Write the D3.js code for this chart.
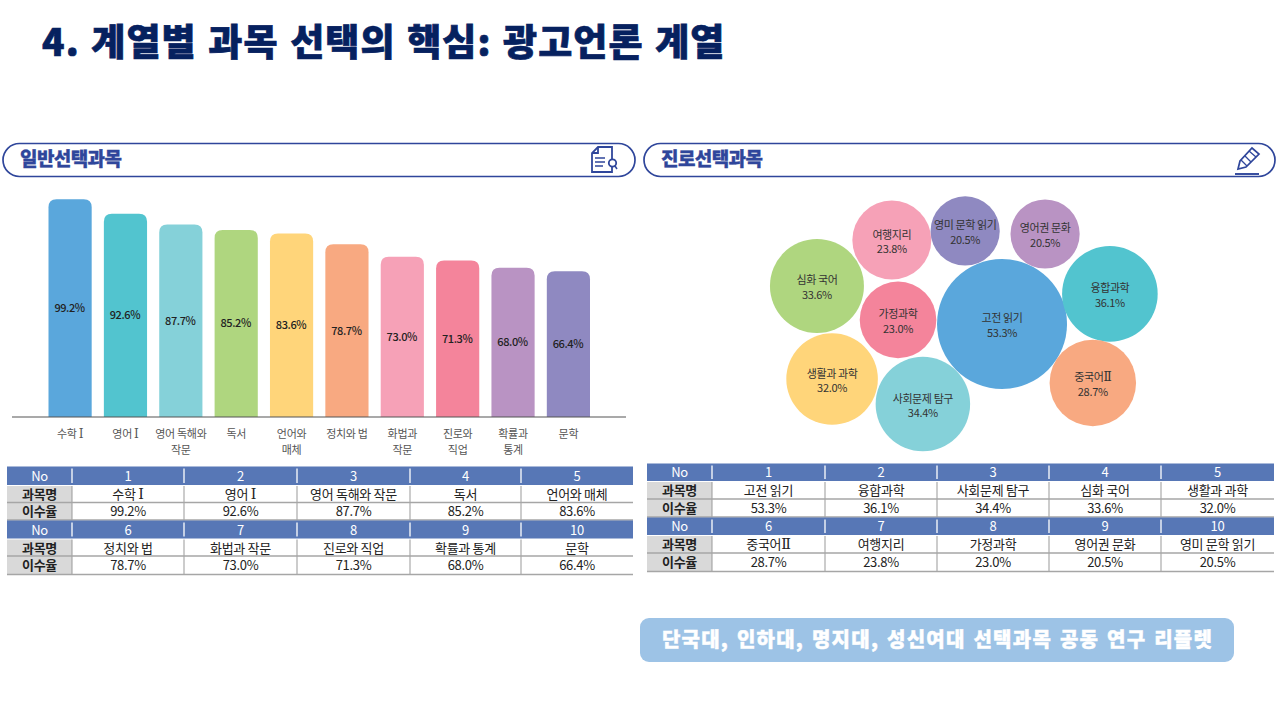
<!DOCTYPE html>
<html>
<head>
<meta charset="utf-8">
<style>
  html, body { margin: 0; padding: 0; background: #fff; }
  text { font-family: "Noto Sans CJK KR", "Noto Sans", sans-serif; }
</style>
<script src="https://cdn.jsdelivr.net/npm/d3@7"></script>
</head>
<body>
<svg id="chart" width="1280" height="720"></svg>
<script>
// general electives, "|" marks the line break on the axis
const generalSubjects = ["수학 Ⅰ", "영어 Ⅰ", "영어 독해와|작문", "독서", "언어와|매체", "정치와 법", "화법과|작문", "진로와|직업", "확률과|통계", "문학"];
const generalRates = [99.2, 92.6, 87.7, 85.2, 83.6, 78.7, 73.0, 71.3, 68.0, 66.4];

// career electives, in table order
const careerSubjects = ["고전 읽기", "융합과학", "사회문제 탐구", "심화 국어", "생활과 과학", "중국어Ⅱ", "여행지리", "가정과학", "영어권 문화", "영미 문학 읽기"];
const careerRates = [53.3, 36.1, 34.4, 33.6, 32.0, 28.7, 23.8, 23.0, 20.5, 20.5];
// where each bubble sits on the map (0-100 both ways)
const bubbleMapX = [59.8, 87.6, 39.4, 12.1, 16.0, 83.2, 31.4, 33.0, 70.9, 50.3];
const bubbleMapY = [49.8, 38.0, 81.2, 34.9, 71.4, 72.9, 16.9, 48.2, 14.5, 13.3];

const palette = ["#5aa7dc", "#52c4cf", "#85d1d9", "#afd67f", "#ffd57a", "#f8a981", "#f6a1b7", "#f4849b", "#b993c3", "#8f89c1"];
const bubbleColors = ["#5aa7dc", "#52c4cf", "#85d1d9", "#afd67f", "#ffd57a", "#f8a981", "#f6a1b7", "#f4849b", "#b993c3", "#8f89c1"];

const navy = "#06215f";
const pillColor = "#2f469b";
const svg = d3.select("#chart");

// roman numerals are serif in the source
function withRoman(str) {
  return str.replace(/[ⅠⅡ]/g, m => `<tspan font-family="DejaVu Serif" font-size="1.1em">${m}</tspan>`);
}

// page title
svg.append("text")
  .attr("x", 42).attr("y", 56)
  .attr("font-size", 37).attr("font-weight", 900)
  .attr("fill", navy).attr("stroke", navy).attr("stroke-width", 0.7)
  .attr("letter-spacing", 1.1)
  .style("word-spacing", "2px")
  .text("4. 계열별 과목 선택의 핵심: 광고언론 계열");

function pill(x, w, label) {
  svg.append("rect")
    .attr("x", x).attr("y", 143.5).attr("width", w).attr("height", 33)
    .attr("rx", 16.5)
    .attr("fill", "#fff").attr("stroke", pillColor).attr("stroke-width", 1.7);
  svg.append("text")
    .attr("x", x + 17).attr("y", 166)
    .attr("font-size", 19).attr("font-weight", 900)
    .attr("fill", pillColor).attr("stroke", pillColor).attr("stroke-width", 0.3)
    .attr("letter-spacing", -0.6)
    .text(label);
}
pill(3, 632, "일반선택과목");
pill(644, 631, "진로선택과목");

// document icon
const docIcon = svg.append("g").attr("fill", "none").attr("stroke", pillColor).attr("stroke-width", 1.8);
docIcon.append("path").attr("d", "M598 147h14v25h-20v-19z");
docIcon.append("path").attr("d", "M598 147v6h-6");
docIcon.append("path").attr("d", "M595 158h10M595 162h10M595 166h8").attr("stroke-width", 1.4);
docIcon.append("circle").attr("cx", 612.5).attr("cy", 163).attr("r", 3.7).attr("fill", "#fff");
docIcon.append("path").attr("d", "M615 166l2 3").attr("stroke-width", 1.5);

// pencil icon
const penIcon = svg.append("g").attr("fill", "none").attr("stroke", pillColor).attr("stroke-width", 1.7);
penIcon.append("path").attr("d", "M1238 169l2-8 12-13 7 6-13 13z");
penIcon.append("path").attr("d", "M1249 151l7 6M1241 160l6 6M1245 156l6 6").attr("stroke-width", 1.3);
penIcon.append("path").attr("d", "M1235 174h24").attr("stroke-width", 1.9);

// bar chart
const barBase = 417;
const xBar = d3.scaleBand().domain(generalSubjects).range([48.5, 590]).paddingInner(0.22);
const yBar = d3.scaleLinear().domain([0, 100]).range([barBase, 197.5]);

const barData = generalSubjects.map((s, i) => ({ s, v: generalRates[i], c: palette[i] }));
const barRadius = 8;

svg.append("g").selectAll("path").data(barData).enter().append("path")
  .attr("fill", d => d.c)
  .attr("d", d => {
    const x = xBar(d.s), w = xBar.bandwidth(), y = yBar(d.v);
    return `M${x} ${barBase}V${y + barRadius}Q${x} ${y} ${x + barRadius} ${y}H${x + w - barRadius}Q${x + w} ${y} ${x + w} ${y + barRadius}V${barBase}Z`;
  });

svg.append("g").selectAll("text").data(barData).enter().append("text")
  .attr("x", d => xBar(d.s) + xBar.bandwidth() / 2 - 0.5)
  .attr("y", d => (yBar(d.v) + barBase) / 2 + 4)
  .attr("text-anchor", "middle")
  .attr("font-size", 11).attr("font-weight", 500)
  .attr("fill", "#222")
  .attr("letter-spacing", -0.4)
  .text(d => d.v.toFixed(1) + "%");

const axis = svg.append("g")
  .attr("transform", `translate(0,${barBase})`)
  .call(d3.axisBottom(xBar).tickSize(0).tickFormat(""));
axis.select(".domain").attr("d", "M12 0H626").attr("stroke", "#555").attr("stroke-width", 1.2);
axis.selectAll(".tick text").remove();
axis.selectAll(".tick").append("text")
  .attr("text-anchor", "middle")
  .attr("font-size", 11)
  .attr("fill", "#555")
  .attr("letter-spacing", -0.3)
  .selectAll("tspan")
  .data(d => d.split("|"))
  .enter().append("tspan")
  .attr("x", 0)
  .attr("y", (d, i) => 20.5 + i * 16.5)
  .html(d => withRoman(d));

// bubble chart
const xMap = d3.scaleLinear().domain([0, 100]).range([770, 1158]);
const yMap = d3.scaleLinear().domain([0, 100]).range([197, 452]);
const rBubble = d3.scaleLinear().domain([20.5, 23.8, 33.6, 36.1, 53.3]).range([34.6, 39.5, 47, 47.8, 65]);

const bubbleData = careerSubjects.map((s, i) => ({ s, v: careerRates[i], mx: bubbleMapX[i], my: bubbleMapY[i], c: bubbleColors[i] }));
const bubbles = svg.append("g").selectAll("g").data(bubbleData).enter().append("g")
  .attr("transform", d => `translate(${xMap(d.mx)},${yMap(d.my)})`);
bubbles.append("circle")
  .attr("r", d => rBubble(d.v))
  .attr("fill", d => d.c);
bubbles.append("text")
  .attr("text-anchor", "middle").attr("y", -1.5)
  .attr("font-size", 11).attr("fill", "#333").attr("letter-spacing", -0.4)
  .html(d => withRoman(d.s));
bubbles.append("text")
  .attr("text-anchor", "middle").attr("y", 13)
  .attr("font-size", 11).attr("fill", "#333").attr("letter-spacing", -0.3)
  .text(d => d.v.toFixed(1) + "%");

// tables
function drawTable(colEdges, rowEdges, names, rates) {
  const g = svg.append("g");
  const x0 = colEdges[0], x1 = colEdges[colEdges.length - 1];
  const cols = d3.range(5);
  [0, 1].forEach(block => {
    const r = block * 3;
    const top = rowEdges[r];
    // header strip
    g.append("rect").attr("x", x0).attr("y", top).attr("width", x1 - x0).attr("height", rowEdges[r + 1] - top - 1).attr("fill", "#5777b6");
    // grey label cells
    g.append("rect").attr("x", x0).attr("y", rowEdges[r + 1]).attr("width", colEdges[1] - x0).attr("height", rowEdges[r + 3] - rowEdges[r + 1]).attr("fill", "#d9d9d9");

    const cellText = (label, row, col, opts) => g.append("text")
      .attr("x", (colEdges[col] + colEdges[col + 1]) / 2)
      .attr("y", (rowEdges[row] + rowEdges[row + 1]) / 2 + 4.5)
      .attr("text-anchor", "middle")
      .attr("font-size", 13)
      .attr("letter-spacing", -0.3)
      .attr("font-weight", opts.bold ? 700 : 400)
      .attr("fill", opts.fill)
      .html(withRoman(label));

    cellText("No", r, 0, { fill: "#fff" });
    cellText("과목명", r + 1, 0, { fill: "#222", bold: true });
    cellText("이수율", r + 2, 0, { fill: "#222", bold: true });
    cols.forEach(c => {
      const i = block * 5 + c;
      cellText(String(i + 1), r, c + 1, { fill: "#fff" });
      cellText(names[i].replace("|", " "), r + 1, c + 1, { fill: "#222" });
      cellText(rates[i].toFixed(1) + "%", r + 2, c + 1, { fill: "#222" });
      // separators
      g.append("line").attr("x1", colEdges[c + 1]).attr("x2", colEdges[c + 1])
        .attr("y1", top + 2).attr("y2", rowEdges[r + 1] - 3)
        .attr("stroke", "#fff").attr("stroke-width", 1.3);
      g.append("line").attr("x1", colEdges[c + 1]).attr("x2", colEdges[c + 1])
        .attr("y1", rowEdges[r + 1]).attr("y2", rowEdges[r + 3])
        .attr("stroke", "#999").attr("stroke-width", 1);
    });
    // row rules
    [r + 2, r + 3].forEach(k => {
      g.append("line").attr("x1", x0).attr("x2", x1)
        .attr("y1", rowEdges[k] - 0.5).attr("y2", rowEdges[k] - 0.5)
        .attr("stroke", "#a6a6a6").attr("stroke-width", 1.3);
    });
  });
}
drawTable([7, 72, 184, 297, 410, 521, 633], [466.5, 486, 503, 520.5, 539.5, 556.5, 575], generalSubjects, generalRates);
drawTable([647, 712, 825, 937, 1049, 1161, 1274], [463.5, 482, 499.5, 517.5, 536, 553.5, 572], careerSubjects, careerRates);

// source box
svg.append("rect")
  .attr("x", 640).attr("y", 618).attr("width", 594).attr("height", 44).attr("rx", 9)
  .attr("fill", "#9dc3e6");
svg.append("text")
  .attr("x", 937.5).attr("y", 647)
  .attr("text-anchor", "middle")
  .attr("font-size", 20).attr("font-weight", 900)
  .attr("fill", "#fff").attr("stroke", "#fff").attr("stroke-width", 0.4)
  .attr("letter-spacing", 1.25)
  .style("word-spacing", "2px")
  .text("단국대, 인하대, 명지대, 성신여대 선택과목 공동 연구 리플렛");
</script>
</body>
</html>
